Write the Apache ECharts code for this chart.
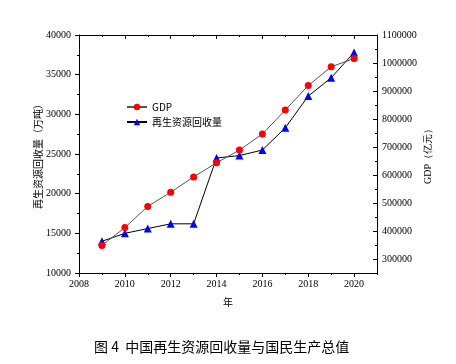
<!DOCTYPE html>
<html><head><meta charset="utf-8">
<script src="https://cdn.jsdelivr.net/npm/echarts@6/dist/echarts.min.js"></script>
<style>html,body{margin:0;padding:0;background:#fff}#c{width:456px;height:364px}</style>
</head><body><div id="c"></div>
<script>
var years = [2009,2010,2011,2012,2013,2014,2015,2016,2017,2018,2019,2020];
var gdp = [348500,412100,487900,538600,593000,643600,688900,746400,832000,919300,986500,1016000];
var recycle = [14000,15000,15600,16200,16200,24500,24800,25500,28300,32300,34600,37800];
var xLabelYears = [2008,2010,2012,2014,2016,2018,2020];
var rightLabels = [300000,400000,500000,600000,700000,800000,900000,1000000,1100000];

var serif = '"Liberation Serif","Times New Roman",serif';
var cjk = '"Noto Sans CJK SC",sans-serif';
var lineBlack = {lineStyle:{color:'#000',width:1}};
function plain(v){ return String(v); }

var chart = echarts.init(document.getElementById('c'));
chart.setOption({
  animation:false,
  backgroundColor:'#fff',
  grid:{left:79,right:79,top:35,bottom:91,containLabel:false},
  legend:{
    orient:'vertical', left:121, top:97, itemWidth:20, itemHeight:8, itemGap:5,
    textStyle:{fontSize:10,fontFamily:cjk,color:'#000'},
    data:['GDP','再生资源回收量']
  },
  graphic:[{type:'text',left:94,top:340,style:{text:'图 4  中国再生资源回收量与国民生产总值',font:'14px "Noto Sans CJK SC",sans-serif',fill:'#000'}}],
  xAxis:[
    {type:'value',min:2008,max:2021,position:'bottom',name:'年',nameLocation:'middle',nameGap:24,nameMoveOverlap:false,
     nameTextStyle:{fontFamily:cjk,fontSize:10,color:'#000'},
     axisLine:lineBlack,splitLine:{show:false},
     axisTick:{show:true,inside:false,length:4,customValues:xLabelYears,lineStyle:{color:'#000'}},
     axisLabel:{customValues:xLabelYears,formatter:plain,fontFamily:serif,fontSize:10,color:'#000',margin:6}},
    {type:'value',min:2008,max:2021,interval:1,position:'bottom',
     axisLine:{show:false},splitLine:{show:false},axisLabel:{show:false},
     axisTick:{show:true,inside:false,length:2,lineStyle:{color:'#000'}}},
    {type:'value',min:2008,max:2021,position:'top',
     axisLine:lineBlack,splitLine:{show:false},axisLabel:{show:false},
     axisTick:{show:true,inside:true,length:4,customValues:xLabelYears,lineStyle:{color:'#000'}}},
    {type:'value',min:2008,max:2021,interval:1,position:'top',
     axisLine:{show:false},splitLine:{show:false},axisLabel:{show:false},
     axisTick:{show:true,inside:true,length:2,lineStyle:{color:'#000'}}}
  ],
  yAxis:[
    {type:'value',min:10000,max:40000,interval:5000,position:'left',
     name:'再生资源回收量（万吨）',nameLocation:'middle',nameGap:36,nameRotate:90,nameMoveOverlap:false,
     nameTextStyle:{fontFamily:cjk,fontSize:10,color:'#000'},
     axisLine:{show:true,lineStyle:{color:'#000',width:1}},splitLine:{show:false},
     axisTick:{show:true,inside:false,length:4,lineStyle:{color:'#000'}},
     minorTick:{show:true,splitNumber:2,length:2,lineStyle:{color:'#000'}},
     axisLabel:{formatter:plain,fontFamily:serif,fontSize:10,color:'#000',margin:8}},
    {type:'value',min:250000,max:1100000,position:'right',
     name:'GDP（亿元）',nameLocation:'middle',nameGap:46,nameRotate:90,nameMoveOverlap:false,
     nameTextStyle:{fontFamily:serif,fontSize:10,color:'#000'},
     axisLine:{show:true,lineStyle:{color:'#000',width:1}},splitLine:{show:false},
     axisTick:{show:true,inside:true,length:4,customValues:rightLabels,lineStyle:{color:'#000'}},
     axisLabel:{customValues:rightLabels,formatter:plain,fontFamily:serif,fontSize:10,color:'#000',margin:5}},
    {type:'value',min:250000,max:1100000,interval:50000,position:'right',
     axisLine:{show:false},splitLine:{show:false},axisLabel:{show:false},
     axisTick:{show:true,inside:true,length:2,lineStyle:{color:'#000'}}}
  ],
  series:[
    {name:'GDP',type:'line',xAxisIndex:0,yAxisIndex:1,
     data:years.map(function(y,i){return [y,gdp[i]];}),
     symbol:'circle',symbolSize:7,itemStyle:{color:'#ff0000'},
     lineStyle:{color:'#555',width:1},z:3},
    {name:'再生资源回收量',type:'line',xAxisIndex:0,yAxisIndex:0,
     data:years.map(function(y,i){return [y,recycle[i]];}),
     symbol:'triangle',symbolSize:8,itemStyle:{color:'#0000ff'},
     lineStyle:{color:'#000',width:1},z:2}
  ]
});
</script></body></html>
